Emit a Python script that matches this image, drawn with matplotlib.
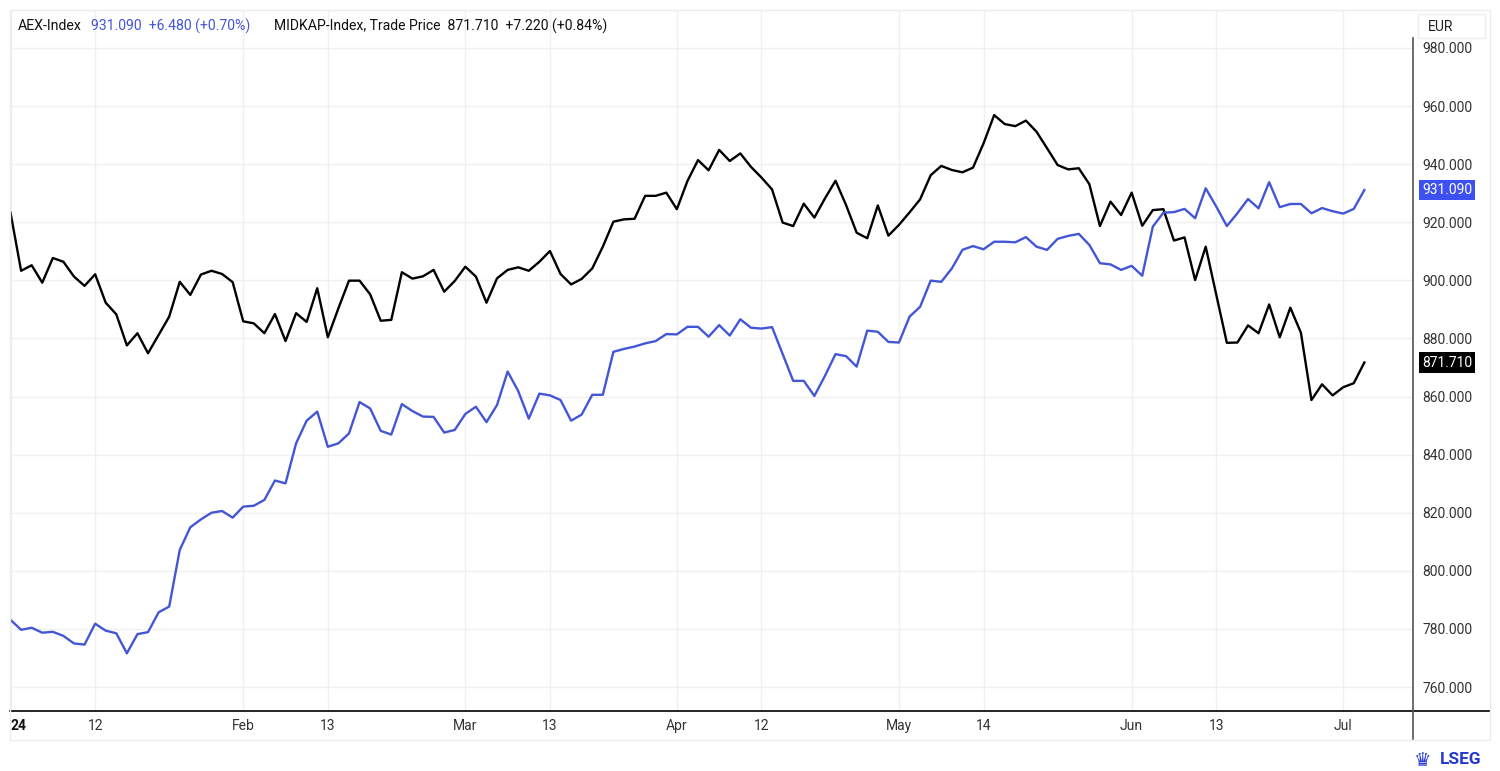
import numpy as np
import pandas as pd
import matplotlib
matplotlib.use("Agg")
import matplotlib.pyplot as plt
from matplotlib.lines import Line2D
from matplotlib.patches import Rectangle

plt.rcParams["font.family"] = ["Roboto", "DejaVu Sans"]

# handelsdagen Euronext 2024 (Goede Vrijdag, Paasmaandag, 1 mei dicht)
dates = pd.bdate_range("2024-01-02", "2024-07-03")
dates = dates.drop(pd.to_datetime(["2024-03-29", "2024-04-01", "2024-05-01"]))

aex = [
    783.1, 779.7, 780.4, 778.7, 779.0, 777.6, 775.0, 774.6, 781.8, 779.4,
    778.5, 771.6, 778.2, 778.9, 785.7, 787.7, 807.2, 815.0, 817.7, 820.0,
    820.6, 818.3, 822.1, 822.4, 824.4, 831.1, 830.1, 843.9, 851.7, 854.8,
    842.7, 843.9, 847.3, 858.1, 855.9, 848.2, 846.9, 857.4, 855.0, 853.1,
    853.0, 847.6, 848.5, 854.0, 856.5, 851.2, 857.1, 868.6, 861.9, 852.4,
    861.0, 860.4, 858.8, 851.7, 853.8, 860.6, 860.6, 875.4, 876.4, 877.2,
    878.3, 879.1, 881.5, 881.4, 884.0, 884.0, 880.6, 884.6, 881.0, 886.6,
    883.7, 883.4, 883.9, 874.6, 865.4, 865.4, 860.2, 867.1, 874.6, 873.9,
    870.3, 882.7, 882.3, 878.8, 878.6, 887.5, 890.9, 899.9, 899.5, 904.1,
    910.5, 911.8, 910.7, 913.3, 913.3, 913.1, 914.9, 911.6, 910.5, 914.3,
    915.3, 916.0, 912.2, 905.9, 905.5, 903.6, 905.0, 901.6, 918.5, 923.3,
    923.5, 924.6, 921.4, 931.7, 925.4, 918.7, 923.1, 928.0, 924.8, 933.8,
    925.2, 926.3, 926.3, 923.1, 924.9, 923.8, 923.0, 924.6, 931.09,
]
midkap = [
    923.3, 903.3, 905.2, 899.2, 907.7, 906.4, 901.3, 898.1, 902.1, 892.3,
    888.3, 877.6, 881.8, 874.9, 881.2, 887.5, 899.5, 895.0, 902.0, 903.3,
    902.2, 899.4, 885.9, 885.2, 881.8, 888.4, 879.1, 888.7, 885.7, 897.3,
    880.4, 890.4, 899.9, 899.9, 895.2, 886.1, 886.4, 902.8, 900.6, 901.4,
    903.6, 896.1, 899.8, 904.7, 901.3, 892.3, 900.7, 903.6, 904.5, 903.3,
    906.4, 910.1, 902.2, 898.6, 900.5, 904.1, 911.6, 920.2, 921.0, 921.2,
    929.1, 929.1, 930.2, 924.5, 934.2, 941.4, 937.9, 944.9, 941.1, 943.7,
    939.1, 935.4, 931.3, 919.9, 918.7, 926.4, 921.6, 928.2, 934.3, 925.9,
    916.4, 914.5, 925.8, 915.4, 919.1, 923.4, 927.9, 936.2, 939.4, 938.0,
    937.2, 938.8, 947.2, 956.9, 953.8, 953.1, 955.0, 951.2, 945.5, 939.7,
    938.2, 938.6, 933.1, 918.7, 927.1, 922.5, 930.2, 918.8, 924.2, 924.5,
    913.7, 914.8, 900.1, 911.6, 895.0, 878.5, 878.6, 884.5, 881.8, 891.7,
    880.4, 890.6, 882.0, 858.8, 864.2, 860.4, 863.2, 864.6, 871.71,
]

tick_dates = ["2024-01-02", "2024-01-12", "2024-02-01", "2024-02-13", "2024-03-01",
              "2024-03-13", "2024-04-02", "2024-04-12", "2024-05-02", "2024-05-14",
              "2024-06-03", "2024-06-13", "2024-07-01"]
tick_labels = ["24", "12", "Feb", "13", "Mar", "13", "Apr", "12", "May", "14",
               "Jun", "13", "Jul"]
y_ticks = np.arange(760, 981, 20)

BLUE = "#4356d6"
TAG_BLUE = "#3d50f2"
W, H = 1500, 771

x = np.arange(len(dates))
tick_pos = [dates.get_loc(pd.Timestamp(d)) for d in tick_dates]

fig = plt.figure(figsize=(W / 100, H / 100), dpi=100)
ax = fig.add_axes([10 / W, 60 / H, 1403 / W, 701 / H])

ax.plot(x, midkap, color="black", lw=1.7, zorder=3)
ax.plot(x, aex, color=BLUE, lw=1.7, zorder=4)

ax.set_xlim(-0.05, 132.6)
ax.set_ylim(751.74, 993.08)

ax.set_xticks(tick_pos)
ax.set_xticklabels(tick_labels)
ax.set_yticks(y_ticks)
ax.set_yticklabels([f"{v:.3f}" for v in y_ticks])
ax.yaxis.tick_right()
ax.tick_params(axis="both", length=0, labelsize=10, colors="#333333")
ax.tick_params(axis="x", pad=6)
ax.tick_params(axis="y", pad=6.5)
lbl0 = ax.get_xticklabels()[0]
lbl0.set_fontweight("bold")
lbl0.set_ha("left")
lbl0.set_color("#111111")

ax.grid(color="#f0f0f0", lw=1)
ax.set_axisbelow(True)
for s in ax.spines.values():
    s.set_visible(False)

# assen: onderlijn en rechter prijsas
ax.add_line(Line2D([0, 1.0549], [0, 0], transform=ax.transAxes, color="black",
                   lw=1.2, clip_on=False))
ax.add_line(Line2D([1, 1], [-0.041, 0.96], transform=ax.transAxes, color="#555555",
                   lw=1.2, clip_on=False))

# prijslabels
for val, col in [(aex[-1], TAG_BLUE), (midkap[-1], "black")]:
    ax.annotate(f"{val:.3f}", xy=(1.0, val), xycoords=("axes fraction", "data"),
                xytext=(6.5, 0), textcoords="offset points", ha="left", va="center",
                color="white", fontsize=10,
                bbox=dict(boxstyle="square,pad=0.24", fc=col, ec="none"))

# lichte kader
fig.add_artist(Rectangle((10 / W, 31 / H), 1480 / W, 730 / H, transform=fig.transFigure,
                         fill=False, ec="#ececec", lw=1))
fig.add_artist(Rectangle((1418 / W, 1 - 38 / H), 67 / W, 24 / H, transform=fig.transFigure,
                         fc="white", ec="#eeeeee", lw=1))
fig.text(1428 / W, 1 - 27 / H, "EUR", fontsize=10, color="#222222", va="center")

# kop
ty = 1 - 26 / H
fig.text(18 / W, ty, "AEX-Index", fontsize=10.2, color="#111111", va="center")
fig.text(91 / W, ty, "931.090  +6.480 (+0.70%)", fontsize=10.1, color=BLUE, va="center")
fig.text(274 / W, ty, "MIDKAP-Index, Trade Price  871.710  +7.220 (+0.84%)",
         fontsize=10.1, color="#111111", va="center")

# logo
fig.text(1414 / W, 1 - 760 / H, "\u265b", fontsize=14, color="#2a3ad0", va="center",
         family=["DejaVu Sans"])
fig.text(1440 / W, 1 - 760 / H, "LSEG", fontsize=12.5, fontweight="bold", color="#2438d0",
         va="center")

fig.savefig("out.png", dpi=100, facecolor="white")
